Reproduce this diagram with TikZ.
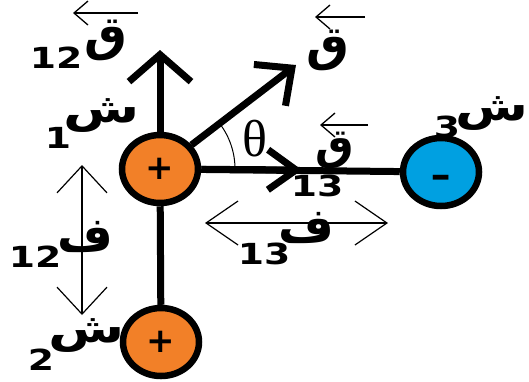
\documentclass[tikz,border=0pt]{standalone}
\usepackage{fontspec}
\setmainfont{DejaVu Sans}
\newfontfamily\arabicfont[Script=Arabic]{DejaVu Sans}
\newfontfamily\thetafont{Liberation Serif}
\TeXXeTstate=1
\usetikzlibrary{arrows.meta,shapes.geometric}
\definecolor{chargeorange}{RGB}{242,128,40}
\definecolor{chargeblue}{RGB}{0,160,225}
\tikzset{
  charge/.style={draw, ellipse, line width=6.5pt, minimum width=76pt, minimum height=68pt, inner sep=0pt,
    font=\fontsize{34}{34}\selectfont\bfseries},
  rod/.style={line width=7pt},
  lblarrow/.style={line width=1.3pt, -{Straight Barb[length=14pt,width=24pt]}},
  distarrow/.style={line width=1.2pt},
  ar/.style={inner sep=0pt, font=\fontsize{48}{48}\selectfont\bfseries\arabicfont},
  num/.style={inner sep=0pt, font=\fontsize{29}{29}\selectfont\bfseries},
}
\newcommand\wide[1]{\scalebox{1.3}[1]{#1}}
\begin{document}
\begin{tikzpicture}[x=1pt,y=-1pt]
\useasboundingbox (0,0) rectangle (529,381);
% charges
\node[charge, fill=chargeorange] (q1) at (160,169) {+};
\node[charge, fill=chargeorange] (q2) at (161,342) {+};
\node[charge, fill=chargeblue, text height=0pt, text depth=0pt] (q3) at (441,172) {\raisebox{-15pt}{\scalebox{1.5}[1]{-}}};
% rods and force vectors
\draw[rod] (q1) -- (q2);
\draw[rod] (q1) -- (q3);
\coordinate (t12) at (160,50);
\coordinate (tq) at (296,65);
\coordinate (t13) at (302,170);
\draw[line width=7pt, -{Straight Barb[length=27pt,width=62pt]}] (q1) -- (t12);
\draw[line width=7pt, -{Straight Barb[length=28pt,width=52pt]}] (q1) -- (tq);
\draw[line width=7pt, -{Straight Barb[length=28pt,width=40pt]}] (q1) -- (t13);
% angle
\draw[line width=1pt] ([xshift=75pt]q1.center) arc[start angle=0,end angle=-37,radius=75];
\node[inner sep=0pt, font=\fontsize{52}{52}\selectfont\thetafont] (th) at (255,139) {θ};
% distance arrows
\coordinate (d13a) at (205,223);
\coordinate (d13b) at (388,223);
\draw[distarrow, {Straight Barb[length=32pt,width=44pt]}-{Straight Barb[length=32pt,width=44pt]}] (d13a) -- (d13b);
\coordinate (d12a) at (82,165);
\coordinate (d12b) at (82,315);
\draw[distarrow, {Straight Barb[length=27pt,width=50pt]}-{Straight Barb[length=27pt,width=50pt]}] (d12a) -- (d12b);
% labels
\node[ar] (F12) at (106,40) {ق};
\node[num] (n12) at (56,58) {\wide{12}};
\coordinate (a12s) at (138,13); \coordinate (a12e) at (73,13);
\draw[lblarrow] (a12s) -- (a12e);
\node[ar] (S1) at (102,116) {\scalebox{1.15}[0.85]{ش}};
\node[num] (n1) at (58,138) {\wide{1}};
\node[ar] (F) at (328,50) {ق};
\coordinate (afs) at (365,17); \coordinate (afe) at (315,17);
\draw[lblarrow] (afs) -- (afe);
\node[ar] (F13) at (335,150) {\scalebox{0.9}{ق}};
\coordinate (a13s) at (368,125); \coordinate (a13e) at (320,125);
\draw[lblarrow] (a13s) -- (a13e);
\node[num] (n13) at (317,186) {\wide{13}};
\node[ar] (S3) at (492,114) {\scalebox{1.1}[0.85]{ش}};
\node[num] (n3) at (447,127) {\wide{3}};
\node[ar] (R13) at (306,228) {ف};
\node[num] (m13) at (264,254) {\wide{13}};
\node[ar] (R12) at (85,237) {ف};
\node[num] (m12) at (35,257) {\wide{12}};
\node[ar] (S2) at (87,336) {\scalebox{1.15}[0.85]{ش}};
\node[num] (n2) at (41,360) {\wide{2}};
\end{tikzpicture}
\end{document}
